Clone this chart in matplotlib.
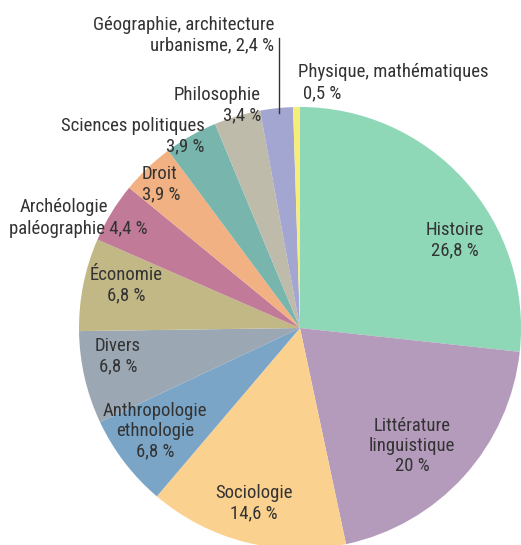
import matplotlib
matplotlib.use("Agg")
from matplotlib import pyplot as plt

# données
disciplines = ["Histoire", "Littérature linguistique", "Sociologie",
               "Anthropologie ethnologie", "Divers", "Économie",
               "Archéologie paléographie", "Droit", "Sciences politiques",
               "Philosophie", "Géographie, architecture urbanisme",
               "Physique, mathématiques"]
parts = [26.8, 20, 14.6, 6.8, 6.8, 6.8, 4.4, 3.9, 3.9, 3.4, 2.4, 0.5]
couleurs = ["#8ed7b7", "#b49bbc", "#fbd18f", "#7aa5c7", "#9ba7b3", "#c1b886",
            "#c17a98", "#f2b182", "#77b5ad", "#bfbbab", "#a3a6d0", "#f7ee7a"]

plt.rcParams["font.family"] = ["Roboto Condensed", "DejaVu Sans"]
plt.rcParams["font.size"] = 13.5
txt_col = "#333333"

W, H = 521, 545
fig = plt.figure(figsize=(W / 100, H / 100), dpi=100)
ax = fig.add_axes([0, 0, 1, 1])

# camembert : départ en haut, sens horaire (axe y inversé)
ax.pie(parts, colors=couleurs, startangle=-90, counterclock=True,
       center=(300, 328), radius=221, normalize=True, frame=True)
ax.set_xlim(0, W)
ax.set_ylim(H, 0)
ax.set_aspect("equal")
ax.axis("off")

def label(x, y, s, ha="center"):
    ax.text(x, y, s, ha=ha, va="center", color=txt_col, linespacing=1.15)

label(455, 240, "Histoire\n26,8 %")
label(412, 446, "Littérature\nlinguistique\n20 %")
label(254, 503, "Sociologie\n14,6 %")
label(155, 431, "Anthropologie\nethnologie\n6,8 %")
label(118, 356, "Divers\n6,8 %")
label(126, 285, "Économie\n6,8 %")
label(64, 207, "Archéologie")
label(9, 229, "paléographie 4,4 %", ha="left")
label(142, 184, "Droit\n3,9 %", ha="left")
label(205, 136, "Sciences politiques\n3,9 %", ha="right")
label(261, 105, "Philosophie\n3,4 %", ha="right")
label(274, 35, "Géographie, architecture\nurbanisme, 2,4 %", ha="right")
ax.text(298, 72, "Physique, mathématiques", ha="left", va="center", color=txt_col)
ax.text(303, 93, "0,5 %", ha="left", va="center", color=txt_col)

# trait de rappel
ax.plot([279, 279], [38, 113], color="#333333", lw=1)

plt.savefig("out.png", dpi=100)
